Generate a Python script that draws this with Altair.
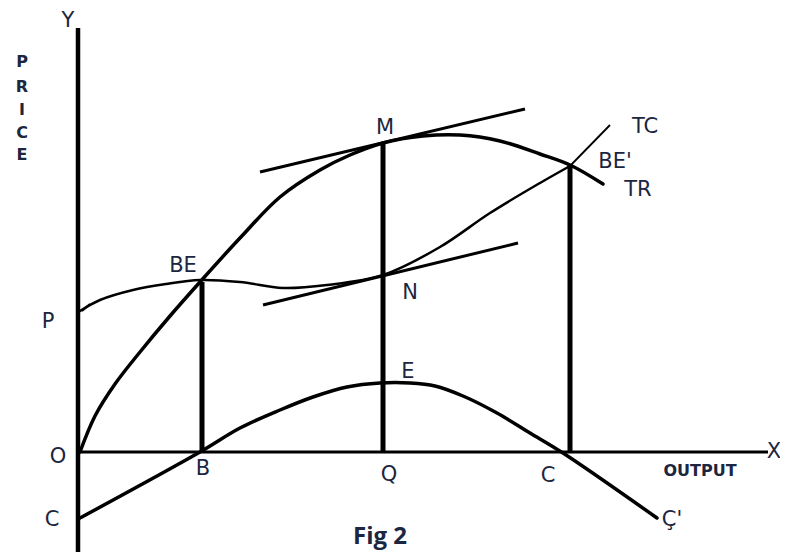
import altair as alt
import pandas as pd

# Total revenue curve (output, value)
tr_x = [0, 15, 35, 60, 90, 120, 160, 200, 240, 270, 303, 343, 380, 420, 460, 490, 523]
tr_y = [0, 36, 68, 100, 136, 170, 214, 255, 282, 297, 309, 316, 317, 311, 298, 287, 268]

# Total cost curve
tc_x = [0, 20, 53, 86, 120, 160, 203, 247, 303, 360, 410, 460, 490]
tc_y = [141, 152, 162, 168, 172, 170, 164, 167, 177, 205, 239, 269, 286]

# Profit curve C-B-E-C-C'
pr_x = [0, 120, 160, 200, 233, 267, 300, 330, 355, 383, 417, 450, 483, 577]
pr_y = [-66, 0, 24, 42, 55, 65, 69, 69, 66, 56, 39, 19, -1, -66]

# Straight segments: axes, verticals, tangents, extensions
seg_name = ["yaxis", "xaxis", "vB", "vQ", "vC", "tanM", "tanN", "tcExt", "arrow"]
seg_x = [-2, -2, 122, 303, 490, 180, 183, 490, 2]
seg_y = [424, 0, 0, 0, 0, 280, 147, 286, 141]
seg_x2 = [-2, 688, 122, 303, 490, 445, 438, 530, 10]
seg_y2 = [-104, 0, 170, 310, 287, 343, 209, 327, 148]
seg_w = [4.5, 3, 5, 5, 5, 3, 3, 1.8, 2]

# Point labels
lab_text = ["Y", "O", "P", "C", "B", "BE", "M", "N", "E", "Q", "C", "Ç'", "TC", "BE'", "TR", "X"]
lab_x = [-12, -22, -32, -28, 123, 103, 305, 330, 328, 309, 468, 592, 565, 535, 558, 694]
lab_y = [431, -5, 130, -68, -17, 186, 324, 159, 80, -23, -24, -68, 325, 290, 262, 0]

price_letters = ["P", "R", "I", "C", "E"]
price_y = [390, 365, 342, 319, 297]

xs = alt.Scale(domain=[-72, 700], nice=False, zero=False)
ys = alt.Scale(domain=[-100, 444], nice=False, zero=False)
X = lambda f="x": alt.X(f"{f}:Q", scale=xs, axis=None)
Y = lambda f="y": alt.Y(f"{f}:Q", scale=ys, axis=None)

def curve(xv, yv, w):
    df = pd.DataFrame({"x": xv, "y": yv})
    return alt.Chart(df).mark_line(color="black", strokeWidth=w, interpolate="catmull-rom", strokeCap="round").encode(
        x=X(), y=Y())

segs = pd.DataFrame({"name": seg_name, "x": seg_x, "y": seg_y, "x2": seg_x2, "y2": seg_y2, "w": seg_w})
seg_layer = alt.Chart(segs).mark_rule(color="black").encode(
    x=X(), y=Y(), x2="x2:Q", y2="y2:Q", strokeWidth=alt.StrokeWidth("w:Q", scale=None, legend=None))

labels = pd.DataFrame({"t": lab_text, "x": lab_x, "y": lab_y})
lab_layer = alt.Chart(labels).mark_text(font="DejaVu Sans", fontSize=21, color="#1c2640",
                                        align="center", baseline="middle").encode(x=X(), y=Y(), text="t:N")

price = pd.DataFrame({"t": price_letters, "x": [-58] * 5, "y": price_y})
price_layer = alt.Chart(price).mark_text(font="DejaVu Sans", fontSize=16, fontWeight="bold", color="#1c2640",
                                         align="center", baseline="middle").encode(x=X(), y=Y(), text="t:N")

out_df = pd.DataFrame({"t": ["OUTPUT"], "x": [620], "y": [-19]})
fig_df = pd.DataFrame({"t": ["Fig 2"], "x": [300], "y": [-85]})
out_layer = alt.Chart(out_df).mark_text(font="DejaVu Sans", fontSize=16, fontWeight="bold",
                                        color="#1c2640", align="center", baseline="middle").encode(
    x=X(), y=Y(), text="t:N")
fig_layer = alt.Chart(fig_df).mark_text(font="Open Sans", fontSize=24, fontWeight="bold",
                                        color="#1c2640", align="center", baseline="middle").encode(
    x=X(), y=Y(), text="t:N")

chart = alt.layer(
    seg_layer,
    curve(tr_x, tr_y, 3.5),
    curve(tc_x, tc_y, 2.5),
    curve(pr_x, pr_y, 3.5),
    lab_layer, price_layer, out_layer, fig_layer,
).properties(width=772, height=544, padding=0, autosize=alt.AutoSizeParams(type="none"),
             background="white").configure_view(stroke=None)

chart.save("out.html", embed_options={"renderer": "svg", "actions": False})
